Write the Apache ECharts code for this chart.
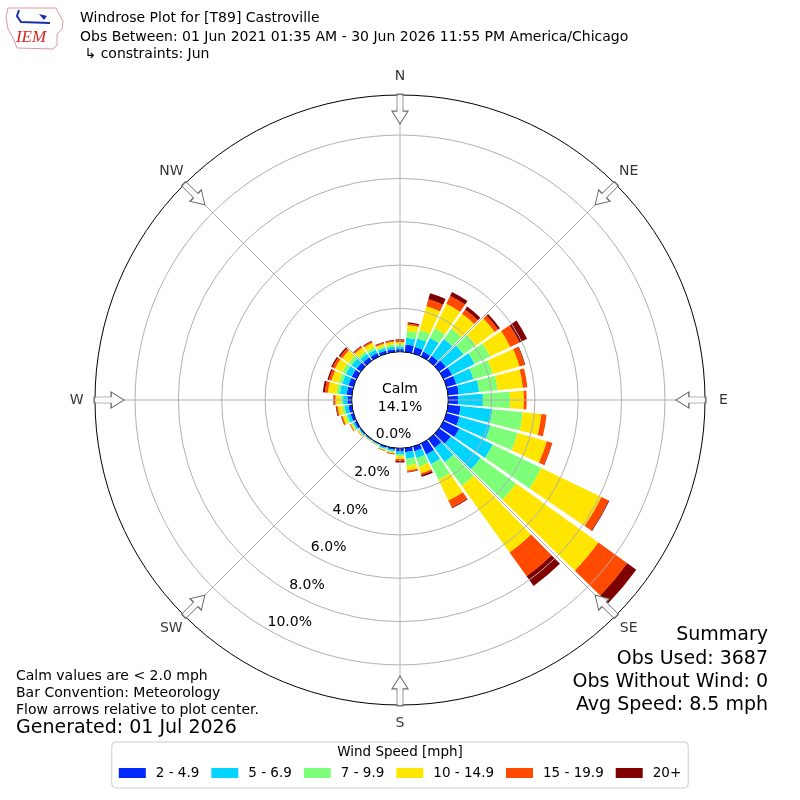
<!DOCTYPE html>
<html>
<head>
<meta charset="utf-8">
<script src="https://cdn.jsdelivr.net/npm/echarts@6/dist/echarts.min.js"></script>
<style>
html,body{margin:0;padding:0;background:#ffffff;}
#chart{width:800px;height:800px;}
</style>
</head>
<body>
<div id="chart"></div>
<script>
// ---------------- data ----------------
const directions = [0,10,20,30,40,50,60,70,80,90,100,110,120,130,140,150,160,170,
                    180,190,200,210,220,230,240,250,260,270,280,290,300,310,320,330,340,350];
const speedBins = ['2 - 4.9','5 - 6.9','7 - 9.9','10 - 14.9','15 - 19.9','20+'];
const binColors = ['#0028ff','#00d4ff','#7dff7a','#ffe600','#ff4a00','#800000'];

// percent of observations per direction, per speed bin
const speed2to5   = [0.12,0.35,0.31,0.25,0.28,0.38,0.44,0.47,0.50,0.45,0.58,0.63,0.81,0.66,0.50,0.56,0.23,0.19,
                     0.15,0.08,0.06,0.04,0.04,0.06,0.10,0.14,0.16,0.20,0.24,0.24,0.25,0.24,0.20,0.18,0.14,0.13];
const speed5to7   = [0.12,0.31,0.41,0.70,0.96,1.00,1.15,0.82,0.94,1.15,1.48,1.48,1.71,1.69,0.80,0.50,0.32,0.31,
                     0.12,0.07,0.06,0.03,0.03,0.05,0.09,0.15,0.18,0.20,0.32,0.30,0.30,0.28,0.20,0.18,0.12,0.12];
const speed7to10  = [0.10,0.31,0.41,0.50,0.60,0.71,0.80,0.93,0.86,1.25,1.41,1.31,2.49,2.02,1.35,0.80,0.41,0.32,
                     0.10,0.05,0.04,0.02,0.02,0.03,0.05,0.09,0.11,0.12,0.16,0.17,0.18,0.18,0.13,0.12,0.08,0.09];
const speed10to15 = [0.10,0.28,1.14,1.25,0.84,1.06,1.03,1.28,1.17,0.64,0.86,1.39,3.08,4.68,3.79,1.06,0.33,0.22,
                     0.12,0.05,0.04,0.02,0.02,0.04,0.07,0.14,0.20,0.23,0.40,0.35,0.37,0.36,0.22,0.22,0.13,0.13];
const speed15to20 = [0.08,0.07,0.33,0.40,0.24,0.20,0.48,0.25,0.21,0.13,0.24,0.25,0.37,1.64,1.35,0.36,0.08,0.07,
                     0.10,0.03,0.02,0.01,0.01,0.02,0.03,0.06,0.07,0.08,0.14,0.12,0.13,0.12,0.07,0.07,0.05,0.05];
const speed20plus = [0.05,0.06,0.29,0.20,0.16,0.10,0.38,0.03,0.00,0.00,0.00,0.02,0.04,0.51,0.55,0.04,0.08,0.02,
                     0.06,0.02,0.01,0.00,0.00,0.00,0.01,0.02,0.03,0.02,0.09,0.07,0.07,0.07,0.03,0.03,0.03,0.03];

const radialMax = 11.85;
const radialInterval = 2;
const compassNames = ['N','NE','E','SE','S','SW','W','NW'];
const compassBearings = [0,45,90,135,180,225,270,315];
const calmLines = ['Calm','14.1%'];
const titleLines = ['Windrose Plot for [T89] Castroville',
                    'Obs Between: 01 Jun 2021 01:35 AM - 30 Jun 2026 11:55 PM America/Chicago',
                    ' \u21b3 constraints: Jun'];
const summaryLines = ['Summary','Obs Used: 3687','Obs Without Wind: 0','Avg Speed: 8.5 mph'];
const noteLines = ['Calm values are < 2.0 mph','Bar Convention: Meteorology','Flow arrows relative to plot center.'];
const generatedLine = 'Generated: 01 Jul 2026';
const legendTitle = 'Wind Speed [mph]';

// ---------------- chart ----------------
const FONT = 'DejaVu Sans';
const CENTER = [400, 400];
const RADIUS = [48.3, 305];
const seriesData = [speed2to5, speed5to7, speed7to10, speed10to15, speed15to20, speed20plus];

function txt(x, y, text, size, align, extra) {
  return Object.assign({
    type: 'text', z: 100, silent: true,
    style: {
      x: x, y: y, text: text, fill: '#000',
      font: size + 'px "' + FONT + '"',
      textAlign: align, align: align,
      textVerticalAlign: 'middle', verticalAlign: 'middle'
    }
  }, extra || {});
}

const graphics = [];
titleLines.forEach((t, i) => graphics.push(txt(80, [18, 37, 54][i], t, 14, 'left')));
summaryLines.forEach((t, i) => graphics.push(txt(768, [635, 659, 682, 705][i], t, 19, 'right')));
noteLines.forEach((t, i) => graphics.push(txt(16, [676, 693, 710][i], t, 14, 'left')));
graphics.push(txt(16, 728, generatedLine, 19, 'left'));
graphics.push(txt(400, 752, legendTitle, 13.5, 'center'));
graphics.push(txt(400, 389, calmLines[0], 14, 'center'));
graphics.push(txt(400, 407, calmLines[1], 14, 'center'));

// IEM logo (decorative)
graphics.push({
  type: 'polygon', z: 100, silent: true,
  shape: { points: [[8,8],[56,8],[58,12],[63,21],[62,29],[57,34],[57,45],[53,49],[17,48],[14,40],[8,29],[6,17]] },
  style: { fill: 'none', stroke: '#d99', lineWidth: 1 }
});
graphics.push({
  type: 'polyline', z: 100, silent: true,
  shape: { points: [[19,10],[17,16],[21,22],[50,23]] },
  style: { fill: 'none', stroke: '#1a2fb0', lineWidth: 2 }
});
graphics.push({
  type: 'polygon', z: 100, silent: true,
  shape: { points: [[39,14],[47,16],[44,20]] },
  style: { fill: '#1a2fb0' }
});
graphics.push({
  type: 'text', z: 100, silent: true,
  style: { x: 31, y: 38, text: 'IEM', fill: '#d22', font: 'italic 17px "Liberation Serif"',
           textAlign: 'center', align: 'center', textVerticalAlign: 'middle', verticalAlign: 'middle' }
});

const splitColors = ['#000000','#b0b0b0','#b0b0b0','#b0b0b0','#b0b0b0','#b0b0b0','#000000'];

const series = speedBins.map((name, i) => ({
  type: 'bar',
  name: name,
  coordinateSystem: 'polar',
  polarIndex: 0,
  stack: 'wind',
  data: seriesData[i],
  barCategoryGap: '14%',
  itemStyle: { color: binColors[i] },
  z: 1,
  silent: true
}));

// flow arrows at the eight compass points
series.push({
  type: 'scatter',
  coordinateSystem: 'polar',
  polarIndex: 1,
  data: compassBearings.map(b => [11.2, b]),
  symbol: 'path://M-3,0L3,0L3,17L8,17L0,30L-8,17L-3,17Z',
  symbolSize: [16, 30],
  symbolRotate: (v) => -v[1],
  itemStyle: { color: '#ffffff', borderColor: '#444444', borderWidth: 1 },
  clip: false,
  z: 10,
  silent: true
});

// compass direction labels
series.push({
  type: 'scatter',
  coordinateSystem: 'polar',
  polarIndex: 1,
  data: compassBearings.map((b, i) => ({ name: compassNames[i], value: [12.7, b] })),
  symbol: 'circle',
  symbolSize: 1,
  itemStyle: { color: 'rgba(0,0,0,0)' },
  label: { show: true, position: 'inside', formatter: '{b}', fontFamily: FONT, fontSize: 14, color: '#000' },
  clip: false,
  z: 10,
  silent: true
});

const option = {
  animation: false,
  backgroundColor: '#ffffff',
  textStyle: { fontFamily: FONT },
  polar: [
    { center: CENTER, radius: RADIUS },
    { center: CENTER, radius: RADIUS },
    { center: CENTER, radius: RADIUS }
  ],
  angleAxis: [
    { polarIndex: 0, type: 'category', data: directions, startAngle: 95, clockwise: true,
      axisLine: { show: false }, axisTick: { show: false }, axisLabel: { show: false },
      splitLine: { show: false }, z: 1 },
    { polarIndex: 1, type: 'value', min: 0, max: 360, interval: 45, startAngle: 90, clockwise: true,
      axisLine: { show: false }, axisTick: { show: false }, axisLabel: { show: false },
      splitLine: { show: true, lineStyle: { color: '#b0b0b0', width: 1 } }, z: 3 },
    { polarIndex: 2, type: 'value', min: 0, max: 360, startAngle: 240, clockwise: true, show: false }
  ],
  radiusAxis: [
    { polarIndex: 0, type: 'value', min: 0, max: radialMax, show: false },
    { polarIndex: 1, type: 'value', min: 0, max: radialMax, interval: radialInterval,
      axisLine: { show: false }, axisTick: { show: false }, axisLabel: { show: false },
      splitLine: { show: true, lineStyle: { color: splitColors, width: 1 } }, z: 3 },
    { polarIndex: 2, type: 'value', min: 0, max: radialMax, interval: radialInterval,
      axisLine: { show: false }, axisTick: { show: false }, splitLine: { show: false },
      axisLabel: { show: true, margin: 0, align: 'left', verticalAlign: 'bottom', showMaxLabel: false,
                   fontSize: 14, fontFamily: FONT, color: '#000',
                   formatter: (v) => v > 10.5 ? '' : v.toFixed(1) + '%' }, z: 4 }
  ],
  legend: {
    data: speedBins, left: 'center', top: 742, orient: 'horizontal',
    icon: 'rect', itemWidth: 27, itemHeight: 10, itemGap: 12,
    padding: [24, 7, 8, 7], borderColor: '#cccccc', borderWidth: 1, borderRadius: 4,
    backgroundColor: '#ffffff', selectedMode: false,
    textStyle: { fontFamily: FONT, fontSize: 13.5, color: '#000', padding: [0, 0, 0, 5] }
  },
  graphic: graphics,
  series: series
};

const chart = echarts.init(document.getElementById('chart'), null, { renderer: 'canvas' });
chart.setOption(option);
</script>
</body>
</html>
